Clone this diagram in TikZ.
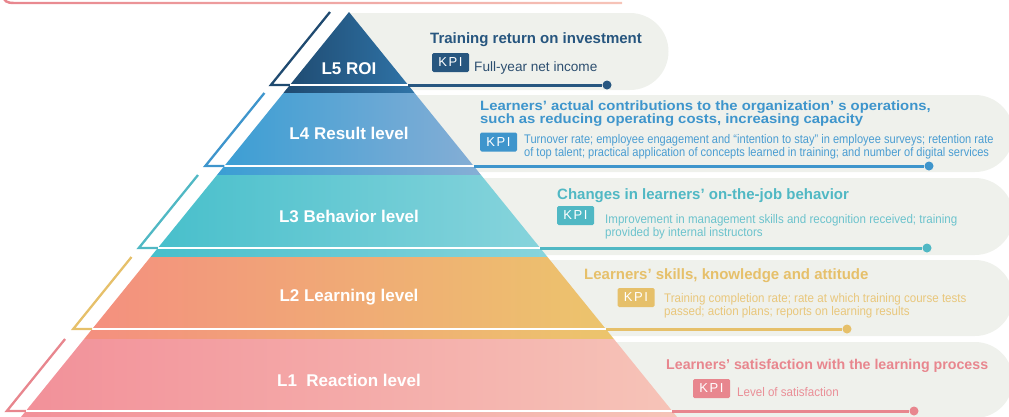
\documentclass[tikz,border=0pt]{standalone}
\usepackage{fontspec}
\setmainfont{Liberation Sans}
\newfontfamily\descfont[FakeStretch=0.925]{Liberation Sans}
\newfontfamily\kpifont[LetterSpace=12]{Liberation Sans}
\usepackage{tikz}
\usetikzlibrary{positioning}

\definecolor{panelgray}{HTML}{EFF1EC}
\definecolor{c5a}{HTML}{1F4A70}
\definecolor{c5b}{HTML}{2F74A8}
\definecolor{c5}{HTML}{27567F}
\definecolor{c5txt}{HTML}{2D4F70}
\definecolor{c4a}{HTML}{3A9ED4}
\definecolor{c4b}{HTML}{86AED5}
\definecolor{c4}{HTML}{3E95CC}
\definecolor{c4txt}{HTML}{4A9DD2}
\definecolor{c3a}{HTML}{47BFCB}
\definecolor{c3b}{HTML}{88D4DC}
\definecolor{c3}{HTML}{50B8C4}
\definecolor{c3txt}{HTML}{6CC3CD}
\definecolor{c2a}{HTML}{F48F7F}
\definecolor{c2b}{HTML}{ECC56C}
\definecolor{c2}{HTML}{E6C06A}
\definecolor{c2txt}{HTML}{E9C77C}
\definecolor{c1a}{HTML}{F29099}
\definecolor{c1b}{HTML}{F6C4B8}
\definecolor{c1}{HTML}{E8868E}
\definecolor{c1txt}{HTML}{EA8F97}

\begin{document}
\begin{tikzpicture}[
    x=1pt, y=-1pt,
    lvl/.style={font=\fontsize{17}{17}\selectfont\bfseries, text=white, inner sep=0pt},
    ttl/.style={font=\fontsize{15}{15}\selectfont\bfseries, anchor=base west, inner sep=0pt},
    kpi/.style={fill=#1, rounded corners=1.5pt, minimum width=37pt, minimum height=19pt,
                inner sep=0pt, text=white, font=\kpifont\fontsize{13}{13}\selectfont},
    desc/.style={font=\descfont\fontsize{12.5}{13.5}\selectfont, align=left,
                 anchor=north west, inner sep=0pt},
    rim/.style={line width=2.3pt},
    gap/.style={draw=white, line width=2.6pt},
    conn/.style={line width=3pt},
    endpt/.style={circle, fill=#1, minimum size=9pt, inner sep=0pt}
]
\useasboundingbox (0,0) rectangle (1009,416);

% top rim
\shade[left color=c1, right color=c1b] (2.5,-4) .. controls (2.5,2) and (6,4.2) .. (14,4.2)
    -- (622,4.2) -- (622,1.8) -- (14,1.8) .. controls (8.5,1.8) and (4.8,0.5) .. (4.8,-4) -- cycle;

% panels
\fill[panelgray] (349,13) -- (630,13) arc[start angle=-90, end angle=90, radius=38.5] -- (349,90) -- cycle;
\fill[panelgray] (400,95) -- (975,95) arc[start angle=-90, end angle=90, radius=38.5] -- (400,172) -- cycle;
\fill[panelgray] (400,178) -- (975,178) arc[start angle=-90, end angle=90, radius=38.5] -- (400,255) -- cycle;
\fill[panelgray] (400,260) -- (975,260) arc[start angle=-90, end angle=90, radius=38] -- (400,336) -- cycle;
\fill[panelgray] (400,342) -- (975,342) arc[start angle=-90, end angle=90, radius=38] -- (400,418) -- cycle;

% pyramid bands
\shade[left color=c5a, right color=c5b] (349,12) -- (414.6,93) -- (283.4,93) -- cycle;
\shade[left color=c4a, right color=c4b] (283.4,93) -- (414.6,93) -- (481,175) -- (217,175) -- cycle;
\shade[left color=c3a, right color=c3b] (217,175) -- (481,175) -- (547.5,257) -- (150.5,257) -- cycle;
\shade[left color=c2a, right color=c2b] (150.5,257) -- (547.5,257) -- (613.9,339) -- (84.1,339) -- cycle;
\shade[left color=c1a, right color=c1b] (84.1,339) -- (613.9,339) -- (679.5,420) -- (18.5,420) -- cycle;

% L5
\coordinate (w5l) at (289.9,85);
\coordinate (w5r) at (408.1,85);
\draw[gap] (w5l) -- (w5r);
\draw[rim, c5a] (330,12) -- (270.9,85) -- (w5l);
\node[endpt=c5] (p5) at (607,85) {};
\draw[conn, c5] (w5r) -- (p5);

% L4
\coordinate (w4l) at (224.3,166);
\coordinate (w4r) at (473.7,166);
\draw[gap] (w4l) -- (w4r);
\draw[rim, c4] (264.4,93) -- (205.3,166) -- (w4l);
\node[endpt=c4] (p4) at (929,166) {};
\draw[conn, c4] (w4r) -- (p4);

% L3
\coordinate (w3l) at (157.8,248);
\coordinate (w3r) at (540.2,248);
\draw[gap] (w3l) -- (w3r);
\draw[rim, c3] (198,175) -- (138.8,248) -- (w3l);
\node[endpt=c3] (p3) at (927,248) {};
\draw[conn, c3] (w3r) -- (p3);

% L2
\coordinate (w2l) at (92.2,329);
\coordinate (w2r) at (605.8,329);
\draw[gap] (w2l) -- (w2r);
\draw[rim, c2] (131.5,257) -- (73.2,329) -- (w2l);
\node[endpt=c2] (p2) at (847,329) {};
\draw[conn, c2] (w2r) -- (p2);

% L1
\coordinate (w1l) at (25.8,411);
\coordinate (w1r) at (672.2,411);
\draw[gap] (w1l) -- (w1r);
\draw[rim, c1] (65.1,339) -- (6.8,411) -- (w1l);
\node[endpt=c1] (p1) at (914,411) {};
\draw[conn, c1] (w1r) -- (p1);

% level names
\node[lvl] (b5) at (349,69) {L5 ROI};
\node[lvl] (b4) at (349,133) {L4 Result level};
\node[lvl] (b3) at (349,216) {L3 Behavior level};
\node[lvl] (b2) at (349,297) {L2 Learning level};
\node[lvl] (b1) at (349,380) {L1\ \ Reaction level};

% texts
\node[ttl, text=c5] (t5) at (430,43) {Training return on investment};
\node[kpi=c5] (k5) at (450.5,62.5) {KPI};
\node[inner sep=0pt, anchor=base west, text=c5txt, font=\fontsize{13.6}{13.6}\selectfont] (d5) at (474,71) {Full-year net income};

\node[ttl, anchor=north west, align=left, text=c4,
      font=\fontsize{13.5}{12.8}\selectfont\bfseries\addfontfeature{FakeStretch=1.1}] (t4) at (480,101)
    {Learners’ actual contributions to the organization’ s operations,\\such as reducing operating costs, increasing capacity};
\node[kpi=c4] (k4) at (498.5,142) {KPI};
\node[desc, text=c4txt, font=\descfont\fontsize{12.5}{13.5}\selectfont\addfontfeature{FakeStretch=0.885}] (d4) at (524,134)
    {Turnover rate; employee engagement and “intention to stay” in employee surveys; retention rate\\of top talent; practical application of concepts learned in training; and number of digital services};

\node[ttl, text=c3] (t3) at (557,199) {Changes in learners’ on-the-job behavior};
\node[kpi=c3] (k3) at (575.5,215.5) {KPI};
\node[desc, text=c3txt] (d3) at (605,214)
    {Improvement in management skills and recognition received; training\\provided by internal instructors};

\node[ttl, text=c2] (t2) at (584,279) {Learners’ skills, knowledge and attitude};
\node[kpi=c2] (k2) at (636,297.5) {KPI};
\node[desc, text=c2txt] (d2) at (664,293)
    {Training completion rate; rate at which training course tests\\passed; action plans; reports on learning results};

\node[ttl, text=c1, font=\fontsize{14.2}{14.2}\selectfont\bfseries] (t1) at (666,369) {Learners’ satisfaction with the learning process};
\node[kpi=c1] (k1) at (711.5,388.5) {KPI};
\node[desc, anchor=base west, text=c1txt] (d1) at (737,396) {Level of satisfaction};
\end{tikzpicture}
\end{document}
